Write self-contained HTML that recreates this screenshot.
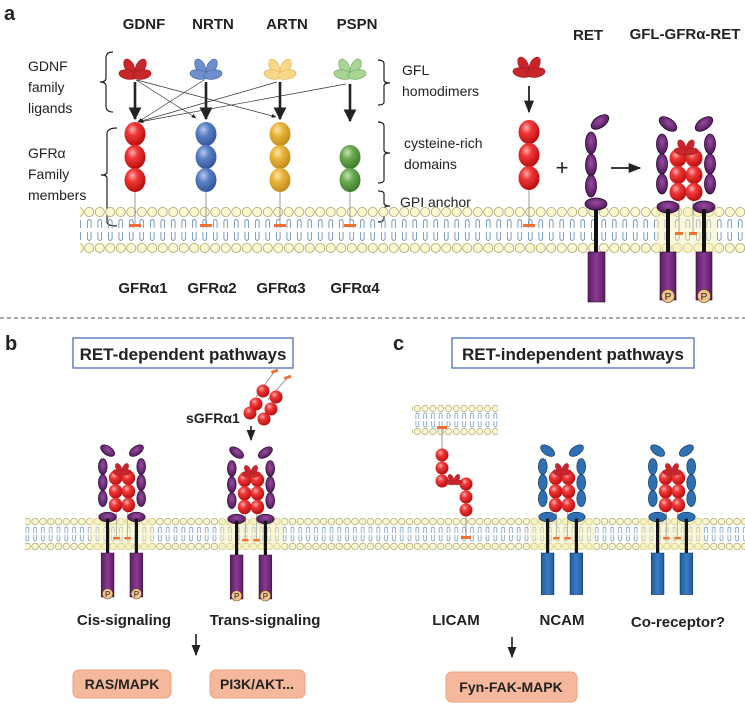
<!DOCTYPE html>
<html><head><meta charset="utf-8"><style>
html,body{margin:0;padding:0;background:#fff}
svg{display:block;font-family:"Liberation Sans",sans-serif}
.b{font-weight:bold;fill:#222}
.r{fill:#222}
</style></head><body>
<svg id="s" width="745" height="709" viewBox="0 0 745 709" xmlns="http://www.w3.org/2000/svg">
<defs>
<radialGradient id="gr" cx="0.38" cy="0.32" r="0.7"><stop offset="0" stop-color="#ffb0b0"/><stop offset="0.35" stop-color="#f03838"/><stop offset="1" stop-color="#b80c0c"/></radialGradient>
<radialGradient id="gb" cx="0.38" cy="0.32" r="0.7"><stop offset="0" stop-color="#b8c8ec"/><stop offset="0.4" stop-color="#5a7fc4"/><stop offset="1" stop-color="#34549a"/></radialGradient>
<radialGradient id="gy" cx="0.38" cy="0.32" r="0.7"><stop offset="0" stop-color="#fbe6a8"/><stop offset="0.4" stop-color="#e8b43c"/><stop offset="1" stop-color="#c08a18"/></radialGradient>
<radialGradient id="gg" cx="0.38" cy="0.32" r="0.7"><stop offset="0" stop-color="#c4e4b0"/><stop offset="0.4" stop-color="#6aa850"/><stop offset="1" stop-color="#3e7a2c"/></radialGradient>
<radialGradient id="gp" cx="0.5" cy="0.4" r="0.6"><stop offset="0" stop-color="#9a4aa2"/><stop offset="1" stop-color="#4e1a58"/></radialGradient>
<linearGradient id="gpr" x1="0" x2="1"><stop offset="0" stop-color="#5a1e62"/><stop offset="0.5" stop-color="#8a3a92"/><stop offset="1" stop-color="#5a1e62"/></linearGradient>
<linearGradient id="gbr" x1="0" x2="1"><stop offset="0" stop-color="#1f5a9c"/><stop offset="0.5" stop-color="#3a7cc4"/><stop offset="1" stop-color="#1f5a9c"/></linearGradient>
<pattern id="memA" x="0" y="207" width="10.5" height="46" patternUnits="userSpaceOnUse">
<circle cx="5.25" cy="5" r="4.6" fill="#fbf7cf" stroke="#a8a46a" stroke-width="0.8"/>
<circle cx="5.25" cy="41" r="4.6" fill="#fbf7cf" stroke="#a8a46a" stroke-width="0.8"/>
<path d="M3.4,21 V14 Q5.25,11 7.1,14 V21 M3.4,25 V32 Q5.25,35 7.1,32 V25" fill="none" stroke="#6d93bd" stroke-width="0.9"/>
</pattern>
<pattern id="memB" x="0" y="518" width="7.8" height="32" patternUnits="userSpaceOnUse">
<circle cx="3.9" cy="3.6" r="3.3" fill="#fbf7cf" stroke="#a8a46a" stroke-width="0.7"/>
<circle cx="3.9" cy="28.4" r="3.3" fill="#fbf7cf" stroke="#a8a46a" stroke-width="0.7"/>
<path d="M2.5,15 V10 Q3.9,8 5.3,10 V15 M2.5,17 V22 Q3.9,24 5.3,22 V17" fill="none" stroke="#6d93bd" stroke-width="0.7"/>
</pattern>
<pattern id="memC" x="0" y="405" width="7.8" height="30" patternUnits="userSpaceOnUse">
<circle cx="3.9" cy="3.4" r="3.1" fill="#fbf7cf" stroke="#a8a46a" stroke-width="0.7"/>
<circle cx="3.9" cy="26.6" r="3.1" fill="#fbf7cf" stroke="#a8a46a" stroke-width="0.7"/>
<path d="M2.5,14 V9 Q3.9,7 5.3,9 V14 M2.5,16 V21 Q3.9,23 5.3,21 V16" fill="none" stroke="#6d93bd" stroke-width="0.7"/>
</pattern>
<marker id="ah" viewBox="0 0 10 10" refX="9" refY="5" markerWidth="5" markerHeight="5" orient="auto"><path d="M0,0 L10,5 L0,10z" fill="#222"/></marker>
<marker id="ahs" viewBox="0 0 10 10" refX="9" refY="5" markerWidth="7" markerHeight="7" orient="auto"><path d="M0,1 L10,5 L0,9z" fill="#222"/></marker>
</defs>

<text x="4" y="20" class="b" font-size="20">a</text>
<g font-size="15" class="b" text-anchor="middle">
<text x="144" y="29">GDNF</text><text x="213" y="29">NRTN</text><text x="287" y="29">ARTN</text><text x="357" y="29">PSPN</text>
<text x="588" y="40">RET</text><text x="685" y="39">GFL-GFRα-RET</text>
</g>
<g font-size="14" class="r">
<text x="28" y="71">GDNF</text><text x="28" y="92">family</text><text x="28" y="113">ligands</text>
<text x="28" y="158">GFRα</text><text x="28" y="179">Family</text><text x="28" y="200">members</text>
</g>
<g font-size="14" class="r">
<text x="402" y="75">GFL</text><text x="402" y="96">homodimers</text>
<text x="404" y="148">cysteine-rich</text><text x="404" y="169">domains</text>
<text x="400" y="207">GPI anchor</text>
</g>
<g fill="none" stroke="#222" stroke-width="1.2">
<path d="M113,52 Q106,52 106,58 V78 Q106,82 100,82 Q106,82 106,86 V106 Q106,112 113,112"/>
<path d="M117,128 Q107,128 107,134 V172 Q107,175 101,175 Q107,175 107,178 V222 Q107,226 117,226"/>
<path d="M378,60 Q384,60 384,64 V80 Q384,83 390,83 Q384,83 384,86 V102 Q384,105 378,105"/>
<path d="M378,122 Q384,122 384,126 V150 Q384,153 390,153 Q384,153 384,156 V180 Q384,183 378,183"/>
<path d="M378,191 Q384,191 384,194 V203 Q384,206 390,206 Q384,206 384,209 V218 Q384,222 378,222"/>
</g>
<g class="b" font-size="15" text-anchor="middle">
<text x="143" y="293">GFRα1</text><text x="212" y="293">GFRα2</text><text x="281" y="293">GFRα3</text><text x="355" y="293">GFRα4</text>
</g>

<rect x="80" y="207" width="665" height="46" fill="url(#memA)"/>
<rect x="655" y="207" width="62" height="46" fill="#f6eeb0" opacity="0.45"/>

<line x1="0" y1="318" x2="745" y2="318" stroke="#555" stroke-dasharray="4,3"/>

<text x="5" y="350" class="b" font-size="20">b</text>
<text x="393" y="350" class="b" font-size="20">c</text>
<g>
<rect x="73" y="338" width="220" height="30" fill="#fff" stroke="#4a70b8" stroke-width="1.3"/>
<text x="183" y="360" class="b" font-size="17" text-anchor="middle">RET-dependent pathways</text></g>
<g>
<rect x="452" y="338" width="242" height="30" fill="#fff" stroke="#4a70b8" stroke-width="1.3"/>
<text x="573" y="360" class="b" font-size="17" text-anchor="middle">RET-independent pathways</text></g>

<rect x="25" y="518" width="720" height="32" fill="url(#memB)"/>
<rect x="412" y="405" width="86" height="30" fill="url(#memC)"/>

<text x="186" y="423" class="b" font-size="14">sGFRα1</text>
<g class="b" font-size="15" text-anchor="middle">
<text x="124" y="625">Cis-signaling</text><text x="265" y="625">Trans-signaling</text>
<text x="456" y="625">LICAM</text><text x="562" y="625">NCAM</text><text x="678" y="627">Co-receptor?</text>
</g>
<g stroke="#222" stroke-width="1.6">
<line x1="196" y1="634" x2="196" y2="655" marker-end="url(#ahs)"/>
<line x1="512" y1="637" x2="512" y2="657" marker-end="url(#ahs)"/>
<line x1="251" y1="426" x2="251" y2="440" marker-end="url(#ahs)"/>
</g>
<g><rect x="73" y="670" width="98" height="28" rx="6" fill="#f6b89c" stroke="#e8a080"/><text x="122" y="689" text-anchor="middle" class="b" font-size="14">RAS/MAPK</text></g>
<g><rect x="210" y="670" width="95" height="28" rx="6" fill="#f6b89c" stroke="#e8a080"/><text x="257" y="689" text-anchor="middle" class="b" font-size="14">PI3K/AKT...</text></g>
<g><rect x="446" y="672" width="131" height="30" rx="6" fill="#f6b89c" stroke="#e8a080"/><text x="511" y="692" text-anchor="middle" class="b" font-size="14">Fyn-FAK-MAPK</text></g>
</svg>
<script>
const NS="http://www.w3.org/2000/svg";
const svg=document.getElementById('s');
function grp(html,tf){const g=document.createElementNS(NS,'g');if(tf)g.setAttribute('transform',tf);g.innerHTML=html;svg.appendChild(g);return g;}
const colors={red:['#c8262a','#a51a1e'],blue:['#6f8fcc','#4a6aaa'],yellow:['#f8d888','#e0b860'],green:['#a8d494','#78aa68']};
function lig(x,y,c,s){s=s||1.15;const [f,st]=colors[c];
return `<g transform="translate(${x},${y}) scale(${s})" fill="${f}" stroke="${st}" stroke-width="0.6">
<ellipse cx="-5" cy="-3" rx="4" ry="7" transform="rotate(-28 -5 -3)"/><ellipse cx="5" cy="-3" rx="4" ry="7" transform="rotate(28 5 -3)"/>
<ellipse cx="-6" cy="4" rx="8" ry="4" transform="rotate(10 -6 4)"/><ellipse cx="6" cy="4" rx="8" ry="4" transform="rotate(-10 6 4)"/></g>`;}
function ball(x,y,g,rx,ry){return `<ellipse cx="${x}" cy="${y}" rx="${rx||10.5}" ry="${ry||12}" fill="url(#${g})"/>`;}
let EST='#2a0a30';
const pe=(x,y,rx,ry,rot,fill)=>`<ellipse cx="${x}" cy="${y}" rx="${rx}" ry="${ry}" transform="rotate(${rot} ${x} ${y})" fill="${fill}" stroke="${EST}" stroke-width="0.8"/>`;
function retChain(x,side,fill){
  let h='';
  h+=pe(x,-88,10,5.5,side*-35,fill);
  h+=pe(x+side*6,-68,5.5,10,0,fill);h+=pe(x+side*6,-48,5.5,10,0,fill);h+=pe(x+side*6,-28,5.5,10,0,fill);
  h+=pe(x,-5,11,6,0,fill);
  return h;}
function complex(cx,my,s,kind,withP,rh,name){
  const blue=kind==='blue';EST=blue?'#0e3050':'#2a0a30';
  const ef=blue?'#2f6fb4':'url(#gp)';const rf=blue?'url(#gbr)':'url(#gpr)';
  let h='';
  h+=`<line x1="-7" y1="-20" x2="-7" y2="22" stroke="#aaa" stroke-width="1"/><line x1="7" y1="-20" x2="7" y2="22" stroke="#aaa" stroke-width="1"/>`;
  h+=`<rect x="-11" y="20" width="8" height="3" fill="#f07030"/><rect x="3" y="20" width="8" height="3" fill="#f07030"/>`;
  h+=retChain(-18,-1,ef)+retChain(18,1,ef);
  h+=`<line x1="-18" y1="-3" x2="-18" y2="40" stroke="#111" stroke-width="4"/><line x1="18" y1="-3" x2="18" y2="40" stroke="#111" stroke-width="4"/>`;
  h+=`<rect x="-26" y="40" width="16" height="${rh}" fill="${rf}" stroke="${EST}" stroke-width="0.6"/><rect x="10" y="40" width="16" height="${rh}" fill="${rf}" stroke="${EST}" stroke-width="0.6"/>`;
  [-54,-37,-20].forEach(y=>{h+=ball(-8,y,'gr',8.5,9)+ball(8,y,'gr',8.5,9);});
  h+=lig(0,-64,'red',0.85);
  if(withP){[-18,18].forEach(x=>{h+=`<circle cx="${x}" cy="${40+rh-4}" r="6.5" fill="#f3c48c" stroke="#6a4a20" stroke-width="0.7"/><text x="${x}" y="${40+rh}" font-size="10" text-anchor="middle" fill="#222">P</text>`;});}
  const g=grp(h,`translate(${cx},${my}) scale(${s})`);
  
  
}
const ligX=[135,206,280,350],ligC=['red','blue','yellow','green'],grads=['gr','gb','gy','gg'],nBalls=[3,3,3,2];
ligX.forEach((x,i)=>{
  const g=grp(lig(x,70,ligC[i]));
  
  
  let h=`<line x1="${x}" y1="190" x2="${x}" y2="226" stroke="#999" stroke-width="1"/><rect x="${x-6}" y="224" width="12" height="3" fill="#f07030"/>`;
  const ys=[134,157,180].slice(3-nBalls[i]);ys.forEach(y=>{h+=ball(x,y,grads[i]);});
  const r=grp(h);
  
  
});
let ar='';
[[135,82,135,119],[206,82,206,119],[280,82,280,119],[350,84,350,121]].forEach(a=>{ar+=`<line x1="${a[0]}" y1="${a[1]}" x2="${a[2]}" y2="${a[3]}" stroke="#222" stroke-width="2.6" marker-end="url(#ah)"/>`;});
[[136,80,196,118],[137,80,276,117],[204,80,138,122],[277,82,138,122],[346,84,139,122]].forEach(a=>{ar+=`<line x1="${a[0]}" y1="${a[1]}" x2="${a[2]}" y2="${a[3]}" stroke="#333" stroke-width="0.7" marker-end="url(#ahs)"/>`;});
ar+=`<line x1="529" y1="86" x2="529" y2="112" stroke="#222" stroke-width="1.8" marker-end="url(#ahs)"/>`;
ar+=`<line x1="611" y1="168" x2="640" y2="168" stroke="#222" stroke-width="1.8" marker-end="url(#ahs)"/>`;
ar+=`<text x="562" y="175" font-size="22" fill="#222" text-anchor="middle">+</text>`;
const ag=grp(ar);
let sh=lig(529,68,'red')+`<line x1="529" y1="190" x2="529" y2="226" stroke="#999"/><rect x="523" y="224" width="12" height="3" fill="#f07030"/>`+ball(529,132,'gr')+ball(529,155,'gr')+ball(529,178,'gr');
const sg=grp(sh);
EST='#2a0a30';
let rh=pe(600,122,10,5.5,-35,'url(#gp)')+pe(591,143,5.5,11,0,'url(#gp)')+pe(591,165,5.5,11,0,'url(#gp)')+pe(591,186,5.5,11,0,'url(#gp)')+
`<line x1="596" y1="207" x2="596" y2="252" stroke="#111" stroke-width="4"/>`+pe(596,204,11,6,0,'url(#gp)')+`<rect x="588" y="252" width="17" height="50" fill="url(#gpr)" stroke="#2a0a30" stroke-width="0.6"/>`;
const rg=grp(rh);
complex(686,212,1,'purple',true,48,'gfl-gfra-ret-complex');
[[122,'cis'],[251,'trans']].forEach(([x,n])=>{const g=grp(`<rect x="${x-32}" y="518" width="64" height="32" fill="#f6eeb0" opacity="0.5"/>`);});
complex(122,521,0.8,'purple',true,55,'cis-signaling-complex');
complex(251,523,0.8,'purple',true,55,'trans-signaling-complex');
let sg2='';
sg2+=`<line x1="256" y1="397" x2="274" y2="372" stroke="#999"/><line x1="268" y1="400" x2="287" y2="378" stroke="#999"/>`;
sg2+=`<rect x="271" y="370" width="7" height="3" fill="#f07030" transform="rotate(-20 274 371)"/><rect x="284" y="376" width="7" height="3" fill="#f07030" transform="rotate(-20 287 377)"/>`;
[[263,391],[256,404],[250,413],[276,397],[271,409],[264,419]].forEach(p=>{sg2+=ball(p[0],p[1],'gr',6.5,6.5);});
const sgg=grp(sg2);
[[562,'ncam'],[672,'coreceptor']].forEach(([x,n])=>{const g=grp(`<rect x="${x-32}" y="518" width="64" height="32" fill="#f6eeb0" opacity="0.5"/>`);});
complex(562,521,0.8,'blue',false,52,'ncam-complex');
complex(672,521,0.8,'blue',false,52,'coreceptor-complex');
let lh=`<line x1="442" y1="428" x2="442" y2="450" stroke="#999"/><rect x="437" y="426" width="10" height="3" fill="#f07030"/>`+
`<line x1="466" y1="508" x2="466" y2="538" stroke="#999"/><rect x="461" y="536" width="10" height="3" fill="#f07030"/>`;
[[442,455],[442,468],[442,481],[466,484],[466,497],[466,510]].forEach(p=>{lh+=ball(p[0],p[1],'gr',6.5,6.5);});
lh+=lig(454,480,'red',0.6);
const lg=grp(lh);
</script>
</body></html>
